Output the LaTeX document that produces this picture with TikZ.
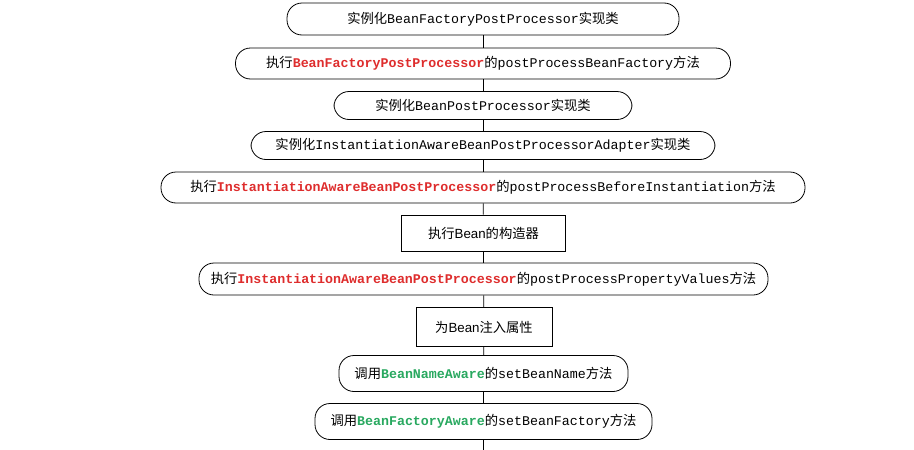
\documentclass[tikz,border=0pt]{standalone}
\usepackage{fontspec}
\setmainfont{Noto Sans CJK SC}
\setsansfont{Liberation Sans}
\setmonofont{Liberation Mono}
\usepackage{tikz}
\usetikzlibrary{positioning}
\usepackage{xcolor}
\definecolor{clsred}{RGB}{222,45,45}
\definecolor{awgreen}{RGB}{40,168,95}
\newcommand{\cls}[1]{\textcolor{clsred}{\ttfamily\bfseries #1}}
\newcommand{\awr}[1]{\textcolor{awgreen}{\ttfamily\bfseries #1}}
\newcommand{\mth}[1]{{\ttfamily #1}}
\tikzstyle{flowround} = [draw, thick, rounded corners=15pt, inner sep=0pt,
  font=\fontsize{13.3}{16}\selectfont]
\tikzstyle{flowrect} = [draw, thick, inner sep=0pt,
  font=\fontsize{13.3}{16}\selectfont]
\tikzstyle{link} = [line width=0.8pt, black]

\begin{document}
\begin{tikzpicture}[x=1pt, y=-1pt, line width=0.8pt]
\useasboundingbox (0,0) rectangle (914,450);

% Instantiation of the factory post processors
\node[flowround, minimum width=392pt, minimum height=32pt] (facinst) at (483,19)
  {实例化\mth{BeanFactoryPostProcessor}实现类};
\node[flowround, minimum width=495pt, minimum height=31pt] (facrun) at (483,63.5)
  {执行\cls{BeanFactoryPostProcessor}的\mth{postProcessBeanFactory}方法};
\node[flowround, minimum width=298pt, minimum height=28pt] (postinst) at (483,105.5)
  {实例化\mth{BeanPostProcessor}实现类};
\node[flowround, minimum width=464pt, minimum height=28pt] (adapinst) at (483,145.5)
  {实例化\mth{InstantiationAwareBeanPostProcessorAdapter}实现类};
\node[flowround, minimum width=644pt, minimum height=31pt] (beforeinst) at (483,187.5)
  {执行\cls{InstantiationAwareBeanPostProcessor}的\mth{postProcessBeforeInstantiation}方法};

% Bean construction and properties
\node[flowrect, minimum width=164pt, minimum height=36pt] (ctor) at (483.5,233)
  {执行\textsf{Bean}的构造器};
\node[flowround, minimum width=569pt, minimum height=32pt] (propvals) at (483.5,279)
  {执行\cls{InstantiationAwareBeanPostProcessor}的\mth{postProcessPropertyValues}方法};
\node[flowrect, minimum width=136pt, minimum height=39pt] (inject) at (484,327)
  {为\textsf{Bean}注入属性};

% Aware callbacks
\node[flowround, minimum width=289pt, minimum height=36pt] (nameaware) at (483.5,373.5)
  {调用\awr{BeanNameAware}的\mth{setBeanName}方法};
\node[flowround, minimum width=337pt, minimum height=36pt] (factaware) at (483.5,421.5)
  {调用\awr{BeanFactoryAware}的\mth{setBeanFactory}方法};
\coordinate (tail) at (483.5,450);

% Connectors
\draw[link] (facinst) -- (facrun);
\draw[link] (facrun) -- (postinst);
\draw[link] (postinst) -- (adapinst);
\draw[link] (adapinst) -- (beforeinst);
\draw[link] (beforeinst) -- (ctor);
\draw[link] (ctor) -- (propvals);
\draw[link] (propvals) -- (inject);
\draw[link] (inject) -- (nameaware);
\draw[link] (nameaware) -- (factaware);
\draw[link] (factaware) -- (tail);
\end{tikzpicture}
\end{document}
